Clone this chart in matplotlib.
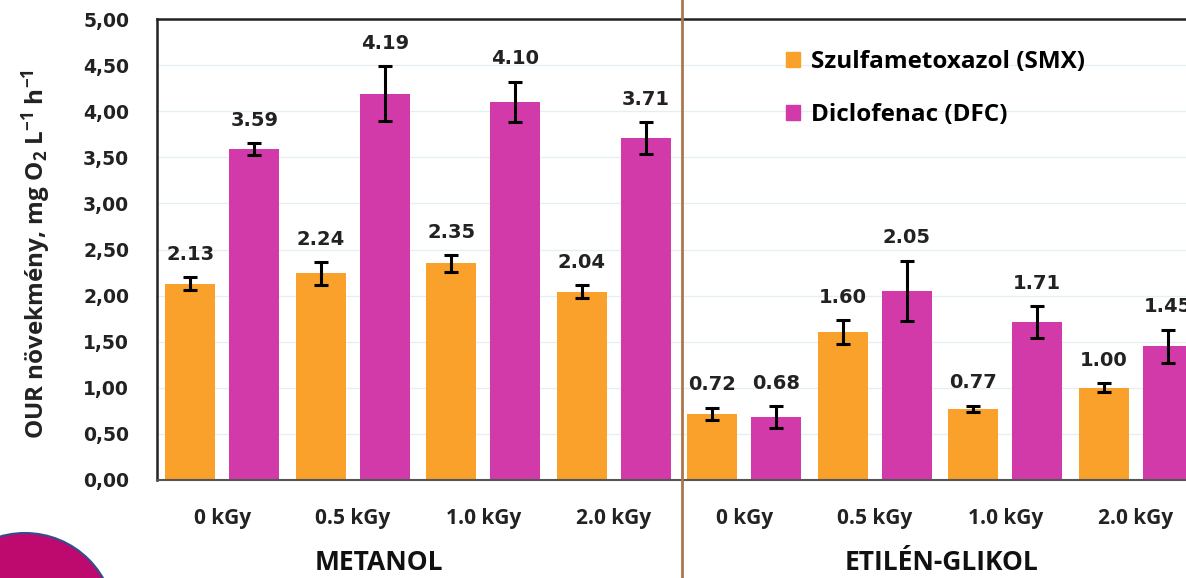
import numpy as np
import matplotlib
matplotlib.use("Agg")
import matplotlib.pyplot as plt
from matplotlib.patches import Circle, Patch

# data
doses = ["0 kGy", "0.5 kGy", "1.0 kGy", "2.0 kGy", "0 kGy", "0.5 kGy", "1.0 kGy", "2.0 kGy"]
groups = ["METANOL", "ETILÉN-GLIKOL"]
smx = [2.13, 2.24, 2.35, 2.04, 0.72, 1.60, 0.77, 1.00]
smx_err = [0.07, 0.12, 0.09, 0.07, 0.065, 0.13, 0.035, 0.05]
dfc = [3.59, 4.19, 4.10, 3.71, 0.68, 2.05, 1.71, 1.45]
dfc_err = [0.06, 0.30, 0.22, 0.17, 0.12, 0.33, 0.175, 0.18]
series_names = ["Szulfametoxazol (SMX)", "Diclofenac (DFC)"]

c_smx = "#f9a12a"
c_dfc = "#d33aa9"

plt.rcParams["mathtext.fontset"] = "custom"
plt.rcParams["mathtext.rm"] = "Open Sans:bold"
plt.rcParams["mathtext.it"] = "Open Sans:bold"
plt.rcParams["mathtext.bf"] = "Open Sans:bold"

W, H = 1186, 578
fig = plt.figure(figsize=(W / 100, H / 100), dpi=100)
ax = fig.add_axes([157 / W, (H - 480) / H, (1201 - 157) / W, (480 - 19) / H])

x = np.arange(len(doses))
bw = 0.38
off = 0.245
ax.bar(x - off, smx, bw, color=c_smx, zorder=2)
ax.bar(x + off, dfc, bw, color=c_dfc, zorder=2)
ek = dict(fmt="none", ecolor="black", elinewidth=2.2, capsize=5, capthick=2.2, zorder=3)
ax.errorbar(x - off, smx, yerr=smx_err, **ek)
ax.errorbar(x + off, dfc, yerr=dfc_err, **ek)

# value labels above the error bars
for xs, vals, errs in [(x - off, smx, smx_err), (x + off, dfc, dfc_err)]:
    for xi, v, e in zip(xs, vals, errs):
        ax.annotate(f"{v:.2f}", (xi, v + e), xytext=(0, 23), textcoords="offset pixels",
                    ha="center", va="center", fontsize=14, fontweight="bold",
                    family="DejaVu Sans", color="#222222")

ax.set_xlim(-0.5, 7.5)
ax.set_ylim(0, 5)
ax.set_yticks(np.arange(0, 5.01, 0.5))
ax.set_yticklabels([f"{v:.2f}".replace(".", ",") for v in np.arange(0, 5.01, 0.5)],
                   fontsize=13.5, fontweight="bold", family="DejaVu Sans", color="#222222")
ax.set_xticks(x)
ax.set_xticklabels(doses, fontsize=15, fontweight="bold", family="Open Sans", color="#222222")
ax.tick_params(axis="y", length=0, pad=20)
ax.tick_params(axis="x", length=0, pad=20)

ax.yaxis.grid(True, color="#e4eff3", lw=0.9)
ax.set_axisbelow(True)
for s in ["left", "top"]:
    ax.spines[s].set_color("#222222")
    ax.spines[s].set_linewidth(1.8)
ax.spines["bottom"].set_color("#555555")
ax.spines["bottom"].set_linewidth(1.5)
ax.spines["right"].set_visible(False)

ax.set_ylabel("OUR növekmény, mg O$_2$ L$^{\\mathrm{-1}}$ h$^{\\mathrm{-1}}$", fontsize=17.5,
              family="Open Sans", fontweight="bold", color="#222222")
ax.yaxis.set_label_coords(-0.1, 0.49)

# divider between the two solvent groups
ax.axvline(3.525, ymin=-0.25, ymax=1.1, color="#a9774b", lw=2, clip_on=False, zorder=4)

tr = ax.get_xaxis_transform()
ax.text(1.2, -0.18, groups[0], transform=tr, ha="center", va="center",
        fontsize=19, fontweight="bold", family="Open Sans", color="#111111")
ax.text(5.51, -0.18, groups[1], transform=tr, ha="center", va="center",
        fontsize=19, fontweight="bold", family="Open Sans", color="#111111")

handles = [Patch(color=c_smx), Patch(color=c_dfc)]
ax.legend(handles, series_names, loc="upper left", bbox_to_anchor=(764 / W, 1 - 28 / H),
          bbox_transform=fig.transFigure, frameon=False, handlelength=0.6, handleheight=0.6,
          handletextpad=0.45, labelspacing=1.2,
          prop={"family": "Open Sans", "weight": "bold", "size": 17.5})

# decorative circle in the bottom-left corner
fig.add_artist(Circle((0.25, (H - 623) / 100), 0.9, transform=fig.dpi_scale_trans,
                      facecolor="#be0a6e", edgecolor="#2f4f8f", lw=1.5))

fig.savefig("out.png", dpi=100)
